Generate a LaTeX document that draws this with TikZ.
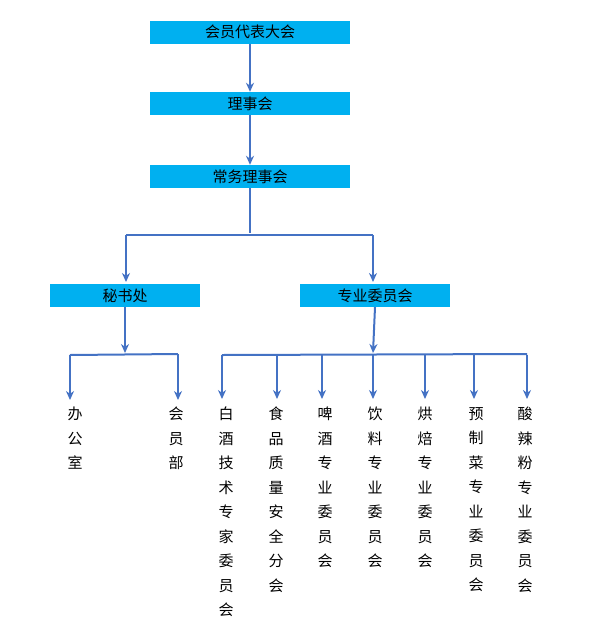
\documentclass[tikz,border=0pt]{standalone}
\usepackage{fontspec}
\setmainfont{Noto Sans CJK SC}
\usetikzlibrary{arrows.meta}
\definecolor{boxc}{HTML}{00B0F0}
\definecolor{linec}{HTML}{4472C4}
\tikzset{
  box/.style={fill=boxc,minimum width=200pt,minimum height=23pt,inner sep=0pt,font=\fontsize{15pt}{15pt}\selectfont},
  sbox/.style={fill=boxc,minimum width=150pt,minimum height=23pt,inner sep=0pt,font=\fontsize{15pt}{15pt}\selectfont},
  conn/.style={draw=linec,line width=2pt},
  arr/.style={conn,-{Stealth[length=9pt,width=8pt]}},
  vtext/.style={anchor=north,align=center,inner sep=0pt,font=\fontsize{15pt}{24.5pt}\selectfont}
}
\begin{document}
\begin{tikzpicture}[x=1pt,y=-1pt]
\useasboundingbox (0,0) rectangle (608,638);
\node[box] (a) at (250,32) {会员代表大会};
\node[box] (b) at (250,103.5) {理事会};
\node[box] (c) at (250,176.5) {常务理事会};
\node[sbox] (s) at (125,295.5) {秘书处};
\node[sbox] (z) at (375,295.5) {专业委员会};
\draw[arr] (a) -- (b);
\draw[arr] (b) -- (c);
\coordinate (c1) at (250,233);
\coordinate (l1) at (126,235);
\coordinate (r1) at (373,235);
\draw[conn] (c.south) -- (c1);
\draw[conn] (l1) -- (r1);
\draw[arr] (l1) -- (126,282);
\draw[arr] (r1) -- (373,282);
% secretariat
\coordinate (s1) at (125,353);
\draw[arr] (s.south) -- (s1);
\draw[conn] (70,355) -- (178,354);
\draw[arr] (70,355) -- (70,400);
\draw[arr] (178,354) -- (178,400);
\node[vtext] (t1) at (75,407) {办\\公\\室};
\node[vtext] (t2) at (176,407) {会\\员\\部};
% committees
\coordinate (z1) at (373,353);
\draw[arr] (z.south) -- (z1);
\draw[conn] (222,355) -- (527,354);
\foreach \x/\n in {222/p1,277/p2,322/p3,373/p4,425/p5,474/p6,527/p7}{
  \draw[arr] (\x,354.5) -- (\x,399);
}
\node[vtext] (u1) at (226,407) {白\\酒\\技\\术\\专\\家\\委\\员\\会};
\node[vtext] (u2) at (276,407) {食\\品\\质\\量\\安\\全\\分\\会};
\node[vtext] (u3) at (325,407) {啤\\酒\\专\\业\\委\\员\\会};
\node[vtext] (u4) at (375,407) {饮\\料\\专\\业\\委\\员\\会};
\node[vtext] (u5) at (425,407) {烘\\焙\\专\\业\\委\\员\\会};
\node[vtext] (u6) at (476,407) {预\\制\\菜\\专\\业\\委\\员\\会};
\node[vtext] (u7) at (525,407) {酸\\辣\\粉\\专\\业\\委\\员\\会};
\end{tikzpicture}
\end{document}
